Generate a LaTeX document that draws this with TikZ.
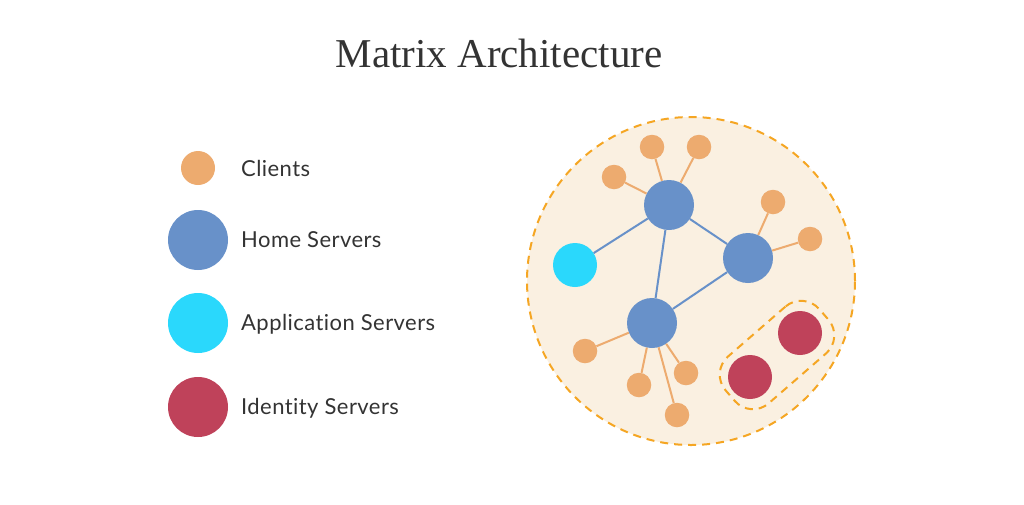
\documentclass[tikz,border=0pt]{standalone}
\usepackage{fontspec}
\setmainfont{Liberation Serif}
\newfontfamily\legendfont[Ligatures={NoCommon}, LetterSpace=2]{Lato}
\usetikzlibrary{shapes.geometric}
\definecolor{clientcol}{HTML}{EDAB6F}
\definecolor{homecol}{HTML}{6891C9}
\definecolor{appcol}{HTML}{2AD8FC}
\definecolor{idcol}{HTML}{BF425A}
\definecolor{cloudcol}{HTML}{FAF0E1}
\definecolor{dashcol}{HTML}{F5A623}
\definecolor{textcol}{HTML}{333333}

\tikzset{client/.style = {shape = circle,
                          fill = clientcol,
                          inner sep = 0pt,
                          minimum size = 24.5pt},
         homeserver/.style = {shape = circle,
                              fill = homecol,
                              inner sep = 0pt,
                              minimum size = 50pt},
         appserver/.style = {shape = circle,
                             fill = appcol,
                             inner sep = 0pt,
                             minimum size = 44pt},
         idserver/.style = {shape = circle,
                            fill = idcol,
                            inner sep = 0pt,
                            minimum size = 44pt},
         clientlink/.style = {draw = clientcol, line width = 2pt},
         serverlink/.style = {draw = homecol, line width = 2pt},
         fence/.style = {draw = dashcol, line width = 2pt,
                         dash pattern = on 8pt off 6pt},
         legendtext/.style = {anchor = base west, inner sep = 0pt,
                              text = textcol, font = \legendfont\fontsize{22}{26}\selectfont}}

\begin{document}
\begin{tikzpicture}[x = 1pt, y = -1pt]
		\useasboundingbox (0,0) rectangle (1024,504);
		% title
		\node[text = textcol, font = \fontsize{41}{46}\selectfont, anchor = base] (title) at (499,67) {Matrix Architecture};
		% legend
		\node[client, minimum size = 34pt] (lclient) at (198,168) {};
		\node[homeserver, minimum size = 60pt] (lhome) at (198,240) {};
		\node[appserver, minimum size = 60pt] (lapp) at (198,323) {};
		\node[idserver, minimum size = 60pt] (lid) at (198,407) {};
		\node[legendtext] (tclient) at (241,176) {Clients};
		\node[legendtext] (thome) at (241,247) {Home Servers};
		\node[legendtext] (tapp) at (241,330) {Application Servers};
		\node[legendtext] (tid) at (241,414) {Identity Servers};
		% federation
		\node[shape = circle, fill = cloudcol, fence, inner sep = 0pt, minimum size = 328pt] (cloud) at (691,281) {};
		\node[draw, fence, rounded corners = 24pt, rotate = 41, minimum width = 124pt, minimum height = 62pt] (idgroup) at (777,355) {};
		\node[homeserver] (hs1) at (669,205) {};
		\node[homeserver] (hs2) at (748,258) {};
		\node[homeserver] (hs3) at (652,323) {};
		\node[appserver] (as1) at (575,265) {};
		\node[idserver] (is1) at (800,333) {};
		\node[idserver] (is2) at (750,377) {};
		\node[client] (c1) at (652,147) {};
		\node[client] (c2) at (699,147) {};
		\node[client] (c3) at (614,177) {};
		\node[client] (c4) at (773,202) {};
		\node[client] (c5) at (810,239) {};
		\node[client] (c6) at (585,351) {};
		\node[client] (c7) at (639,385) {};
		\node[client] (c8) at (686,373) {};
		\node[client] (c9) at (677,415) {};
		\path[clientlink] (c1) edge (hs1);
		\path[clientlink] (c2) edge (hs1);
		\path[clientlink] (c3) edge (hs1);
		\path[clientlink] (c4) edge (hs2);
		\path[clientlink] (c5) edge (hs2);
		\path[clientlink] (c6) edge (hs3);
		\path[clientlink] (c7) edge (hs3);
		\path[clientlink] (c8) edge (hs3);
		\path[clientlink] (c9) edge (hs3);
		\path[serverlink] (hs1) edge (as1);
		\path[serverlink] (hs1) edge (hs2);
		\path[serverlink] (hs1) edge (hs3);
		\path[serverlink] (hs2) edge (hs3);
	\end{tikzpicture}
\end{document}
